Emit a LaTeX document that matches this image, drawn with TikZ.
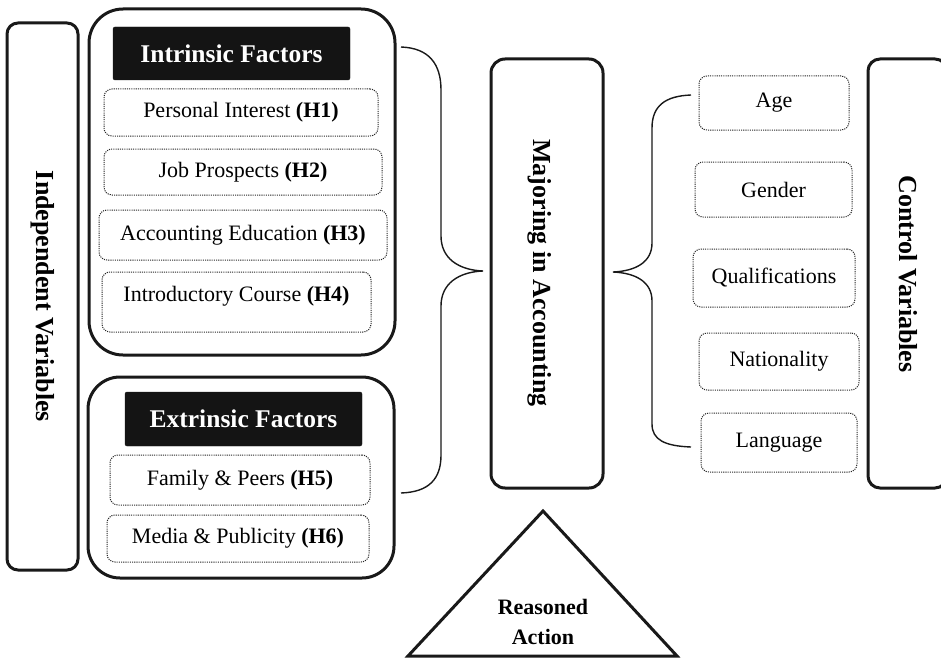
\documentclass[tikz,border=0pt]{standalone}
\usepackage{fontspec}
\setmainfont{Liberation Serif}
\begin{document}
\begin{tikzpicture}[x=1pt,y=-1pt,
  thickbox/.style={draw=black!90, line width=3pt, inner sep=0pt},
  dotbox/.style={draw=black!85, line width=1pt, dash pattern=on 1.1pt off 1.1pt, rounded corners=8pt, inner sep=0pt,
     font=\fontsize{22}{26}\selectfont},
  header/.style={fill=black!92, draw=black!92, rounded corners=2pt, text=white, inner sep=0pt,
     font=\fontsize{25.5}{30}\selectfont\bfseries},
  vlabel/.style={rotate=-90, font=\fontsize{26}{30}\selectfont\bfseries},
  brace/.style={draw=black!90, line width=1.4pt},
]
\useasboundingbox (0,0) rectangle (941,658);

% Independent variables
\node[thickbox, rounded corners=11pt, minimum width=71pt, minimum height=547pt] (indep) at (42.5,296.5) {};
\node[vlabel] (indeptxt) at (42.5,296.5) {Independent Variables};

% Intrinsic factors
\node[thickbox, rounded corners=34pt, minimum width=306pt, minimum height=346pt] (intr) at (242,182) {};
\node[header, minimum width=237pt, minimum height=53pt] (intrh) at (231.5,53.5) {Intrinsic Factors};
\node[dotbox, minimum width=274pt, minimum height=47pt] (h1) at (241,112.5) {Personal Interest \textbf{(H1)}};
\node[dotbox, minimum width=278pt, minimum height=46pt] (h2) at (243,172) {Job Prospects \textbf{(H2)}};
\node[dotbox, minimum width=288pt, minimum height=50pt] (h3) at (243,235) {Accounting Education \textbf{(H3)}};
\node[dotbox, minimum width=269pt, minimum height=60pt] (h4) at (236.5,302) {};
\node[font=\fontsize{22}{26}\selectfont] (h4txt) at (236.5,296) {Introductory Course \textbf{(H4)}};

% Extrinsic factors
\node[thickbox, rounded corners=32pt, minimum width=306pt, minimum height=201pt] (extr) at (241,477.5) {};
\node[header, minimum width=237pt, minimum height=54pt] (extrh) at (243.5,419) {Extrinsic Factors};
\node[dotbox, minimum width=260pt, minimum height=50pt] (h5) at (240,480) {Family \& Peers \textbf{(H5)}};
\node[dotbox, minimum width=262pt, minimum height=47pt] (h6) at (238,538.5) {Media \& Publicity \textbf{(H6)}};

% Majoring in accounting
\node[thickbox, rounded corners=14pt, minimum width=112pt, minimum height=429pt] (major) at (547,273.5) {};
\node[vlabel] (majortxt) at (540,273) {Majoring in Accounting};

% Control variables
\node[thickbox, rounded corners=12pt, minimum width=79pt, minimum height=429pt] (ctrl) at (907.5,273.5) {};
\node[vlabel] (ctrltxt) at (908,274) {Control Variables};
\node[dotbox, minimum width=150pt, minimum height=54pt] (age) at (774,103) {Age};
\node[dotbox, minimum width=157pt, minimum height=55pt] (gender) at (773.5,189.5) {Gender};
\node[dotbox, minimum width=162pt, minimum height=58pt] (qual) at (774,278) {Qualifications};
\node[dotbox, minimum width=160pt, minimum height=57pt] (nat) at (779,361.5) {Nationality};
\node[dotbox, minimum width=156pt, minimum height=59pt] (lang) at (779,442.5) {Language};

% Left brace (factors -> majoring)
\coordinate (lbtop) at (401,47);
\coordinate (lbtip) at (483,271);
\coordinate (lbbot) at (401,493);
\draw[brace] (lbtop) .. controls (429,48) and (441,64) .. (441,90) -- (441,236)
  .. controls (441,258) and (458,270) .. (lbtip)
  .. controls (458,272) and (441,284) .. (441,306) -- (441,455)
  .. controls (441,479) and (429,492) .. (lbbot);

% Right brace (majoring <- control variables)
\coordinate (rbtop) at (691,95);
\coordinate (rbtip) at (613,272);
\coordinate (rbbot) at (691,447);
\draw[brace] (rbtop) .. controls (665,96) and (652,106) .. (652,128) -- (652,243)
  .. controls (652,262) and (636,271) .. (rbtip)
  .. controls (636,273) and (652,282) .. (652,301) -- (652,424)
  .. controls (652,440) and (665,446) .. (rbbot);

% Reasoned action triangle
\coordinate (tapex) at (543,511);
\coordinate (tleft) at (408,656);
\coordinate (tright) at (677,656);
\draw[line width=3pt, draw=black!90, line join=miter] (tapex) -- (tright) -- (tleft) -- cycle;
\node[align=center, font=\fontsize{22}{30}\selectfont\bfseries] (reason) at (543,622) {Reasoned\\Action};
\end{tikzpicture}
\end{document}
